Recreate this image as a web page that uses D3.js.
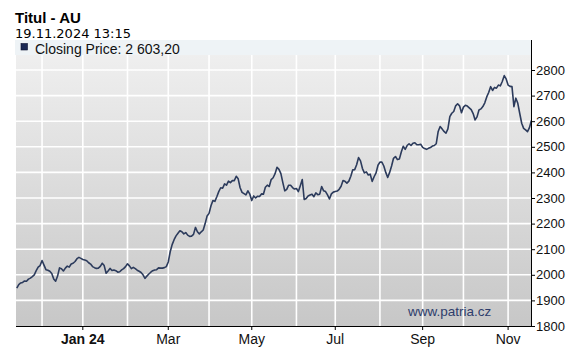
<!DOCTYPE html>
<html><head><meta charset="utf-8">
<script src="https://cdn.jsdelivr.net/npm/d3@7"></script>
<style>body{margin:0;background:#fff}svg{display:block}</style>
</head><body>
<svg id="c" width="573" height="356"></svg>
<script>
// ---- data ----
const chartTitle = "Titul - AU";
const stamp = "19.11.2024 13:15";
const seriesName = "Closing Price";
const firstSession = "2023-11-14";
const lastSession = "2024-11-19";
// one closing value per trading (week)day, month by month
const nov23 = [1948,1962,1968,1970,1976,1975,1983,1987,1993,2000,2016,2030,2036];
const dec23 = [2056,2038,2020,2018,2014,2005,1984,1975,1995,2027,2024,2015,2026,2034,2030,2042,2045,2052,2063,2068,2064];
const jan24 = [2060,2058,2055,2047,2042,2032,2028,2025,2026,2033,2045,2036,2006,2015,2025,2017,2019,2016,2010,2012,2019,2024,2032];
const feb24 = [2043,2035,2024,2029,2024,2018,2014,2009,2000,1986,1995,2003,2010,2016,2019,2020,2027,2026,2026,2028,2032];
const mar24 = [2050,2090,2118,2137,2152,2162,2172,2168,2160,2165,2155,2150,2151,2158,2185,2168,2160,2168,2175,2200,2230];
const apr24 = [2240,2270,2290,2287,2305,2325,2340,2338,2355,2350,2366,2360,2368,2368,2385,2375,2340,2322,2317,2312,2328,2315];
const may24 = [2290,2308,2300,2307,2306,2316,2315,2342,2350,2345,2372,2379,2395,2420,2412,2395,2360,2328,2334,2350,2350,2341,2335];
const jun24 = [2337,2325,2348,2372,2294,2298,2308,2312,2315,2305,2320,2313,2315,2345,2328,2325,2312,2296,2316,2323];
const jul24 = [2325,2327,2334,2346,2368,2365,2358,2366,2385,2410,2411,2430,2458,2445,2415,2398,2402,2390,2393,2365,2383,2398,2428];
const aug24 = [2440,2440,2425,2400,2380,2400,2425,2455,2462,2450,2452,2480,2502,2490,2505,2512,2505,2514,2516,2508,2508,2510];
const sep24 = [2498,2493,2490,2494,2497,2503,2505,2512,2560,2579,2570,2560,2553,2570,2618,2631,2638,2660,2668,2660,2633];
const oct24 = [2655,2662,2659,2652,2645,2630,2605,2617,2644,2648,2657,2672,2695,2712,2735,2720,2732,2729,2741,2738,2755,2778,2765];
const nov24 = [2741,2736,2735,2657,2690,2670,2630,2592,2572,2566,2559,2575,2603.2];
const closing = [].concat(nov23,dec23,jan24,feb24,mar24,apr24,may24,jun24,jul24,aug24,sep24,oct24,nov24);
const yTicks = [1800,1900,2000,2100,2200,2300,2400,2500,2600,2700,2800];
const labeledMonths = ["2024-01","2024-03","2024-05","2024-07","2024-09","2024-11"];
const monthLabels = ["Jan 24","Mar","May","Jul","Sep","Nov"];
const boldLabels = ["Jan 24"];
const watermark = "www.patria.cz";

// ---- build ----
const parse = d3.timeParse("%Y-%m-%d");
const sessions = d3.timeDay.range(parse(firstSession), d3.timeDay.offset(parse(lastSession),1))
  .filter(d => d.getDay() !== 0 && d.getDay() !== 6);
const data = sessions.map((d,i) => ({i, date:d, v:closing[i]})).filter(d => d.v != null);
const monthKey = d3.timeFormat("%Y-%m");
const monthStarts = sessions.map((d,i)=>({i,d})).filter((o,k,a) => k>0 && o.d.getMonth() !== sessions[k-1].getMonth());

const L = 16, R = 531, T = 40, B = 326;
const x = d3.scaleLinear().domain([0, sessions.length-1]).range([16.8, 531.4]);
const y = d3.scaleLinear().domain([1800, 2800]).range([326, 70]);

const svg = d3.select("#c");
const FONT = "'Liberation Sans', Arial, sans-serif";

const defs = svg.append("defs");
const g0 = defs.append("linearGradient").attr("id","bg").attr("x1",0).attr("y1",0).attr("x2",0).attr("y2",1);
g0.append("stop").attr("offset","0%").attr("stop-color","#f1f1f1");
g0.append("stop").attr("offset","100%").attr("stop-color","#c7c7c7");
defs.append("clipPath").attr("id","clip").append("rect").attr("x",L).attr("y",T).attr("width",R-L).attr("height",B-T);

svg.append("rect").attr("x",L).attr("y",T).attr("width",R-L).attr("height",B-T).attr("fill","url(#bg)");

// grid
const grid = svg.append("g").attr("stroke","#fff").attr("stroke-width",1.6);
grid.selectAll("line.h").data(yTicks.slice(1)).join("line")
  .attr("x1",L).attr("x2",R).attr("y1",d=>y(d)).attr("y2",d=>y(d));
grid.selectAll("line.v").data(monthStarts).join("line")
  .attr("x1",d=>x(d.i)).attr("x2",d=>x(d.i)).attr("y1",T).attr("y2",B);

// line
svg.append("path").datum(data)
  .attr("clip-path","url(#clip)")
  .attr("fill","none").attr("stroke","#2c3b5c").attr("stroke-width",1.6).attr("stroke-linejoin","round")
  .attr("d", d3.line().x(d=>x(d.i)).y(d=>y(d.v)));

// legend band
svg.append("rect").attr("x",L-1).attr("y",T).attr("width",R-L+1).attr("height",15).attr("fill","#eef3f6");
svg.append("rect").attr("x",21).attr("y",43.5).attr("width",6.5).attr("height",6.5).attr("fill","#1c2a55").attr("stroke","#0b1230").attr("stroke-width",0.6);
const fmt = d3.formatLocale({decimal:",", thousands:" ", grouping:[3], currency:["",""]}).format(",.2f");
svg.append("text").attr("x",35).attr("y",53.5).attr("font-family",FONT).attr("font-size",14).attr("fill","#111")
  .text(`${seriesName}: ${fmt(closing[closing.length-1])}`);

// title
svg.append("text").attr("x",15).attr("y",23).attr("font-family",FONT).attr("font-size",15).attr("font-weight","bold").attr("fill","#000").text(chartTitle);
svg.append("text").attr("x",15).attr("y",37.5).attr("font-family","'DejaVu Sans', sans-serif").attr("font-size",13).attr("fill","#000").text(stamp);

// watermark
svg.append("text").attr("x",408).attr("y",316).attr("font-family",FONT).attr("font-size",13.5).attr("fill","#2e3d6c").text(watermark);

// axes
const yAxis = d3.axisRight(y).tickValues(yTicks).tickSize(4).tickPadding(1).tickFormat(d3.format("d"));
const ya = svg.append("g").attr("transform",`translate(${R},0)`).call(yAxis);
ya.select(".domain").remove();
ya.selectAll("text").attr("font-family",FONT).attr("font-size",13).attr("fill","#111");
ya.selectAll("line").attr("stroke","#000");
svg.append("line").attr("x1",R+0.5).attr("x2",R+0.5).attr("y1",T).attr("y2",B+1).attr("stroke","#000");
svg.append("line").attr("x1",L).attr("x2",R+1).attr("y1",B+0.5).attr("y2",B+0.5).attr("stroke","#000");

const labeled = monthStarts.filter(o => labeledMonths.includes(monthKey(o.d)));
const xg = svg.append("g");
xg.selectAll("line").data(labeled).join("line")
  .attr("x1",d=>x(d.i)).attr("x2",d=>x(d.i)).attr("y1",B).attr("y2",B+4).attr("stroke","#000");
xg.selectAll("text").data(labeled).join("text")
  .attr("x",d=>x(d.i)).attr("y",344).attr("text-anchor","middle")
  .attr("font-family",FONT).attr("font-size",14).attr("fill","#111")
  .attr("font-weight",d=>boldLabels.includes(monthLabels[labeledMonths.indexOf(monthKey(d.d))])?"bold":"normal")
  .text(d=>monthLabels[labeledMonths.indexOf(monthKey(d.d))]);
</script>
</body></html>
